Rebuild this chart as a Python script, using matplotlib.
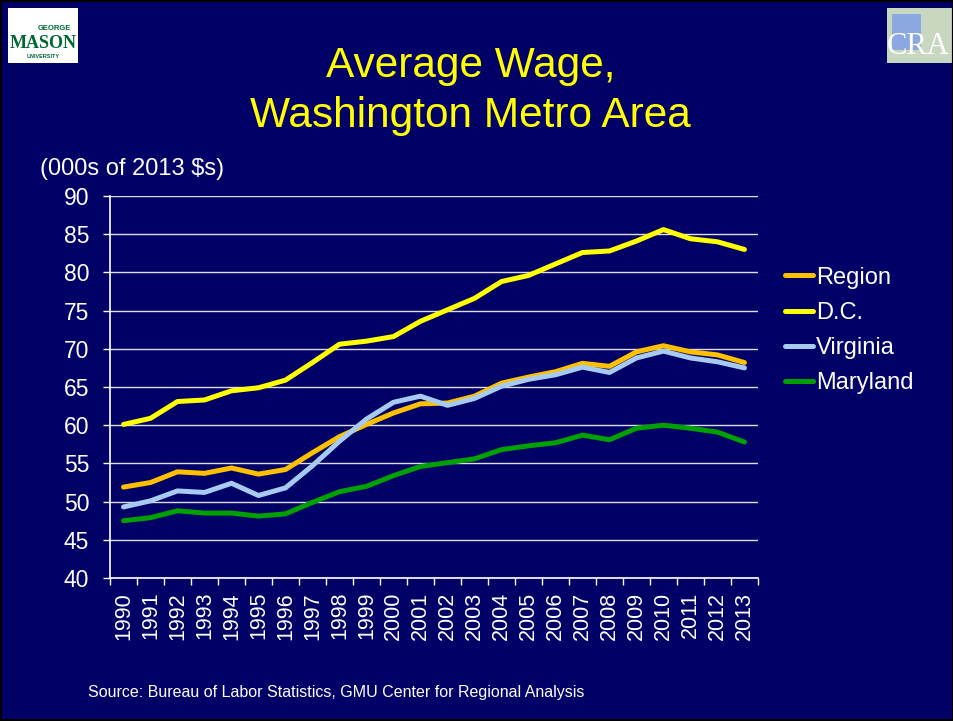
import matplotlib.pyplot as plt
from matplotlib.patches import Rectangle

plt.rcParams['font.family'] = ['Liberation Sans', 'DejaVu Sans']

years = [str(y) for y in range(1990, 2014)]
region = [51.9, 52.5, 53.9, 53.7, 54.4, 53.6, 54.2, 56.4, 58.5, 60.1, 61.6, 62.8,
          62.9, 63.8, 65.5, 66.3, 67.0, 68.1, 67.7, 69.6, 70.4, 69.6, 69.2, 68.2]
dc = [60.1, 60.9, 63.1, 63.3, 64.5, 64.9, 65.9, 68.2, 70.6, 71.0, 71.6, 73.6,
      75.1, 76.6, 78.8, 79.6, 81.1, 82.6, 82.8, 84.1, 85.6, 84.4, 84.0, 83.0]
virginia = [49.3, 50.1, 51.4, 51.2, 52.4, 50.8, 51.8, 54.7, 57.9, 60.8, 63.0, 63.8,
            62.6, 63.5, 65.1, 66.0, 66.6, 67.6, 66.9, 68.8, 69.7, 68.8, 68.3, 67.5]
maryland = [47.5, 47.9, 48.8, 48.5, 48.5, 48.1, 48.4, 49.9, 51.3, 52.0, 53.4, 54.6,
            55.1, 55.6, 56.8, 57.3, 57.7, 58.7, 58.1, 59.6, 60.0, 59.6, 59.1, 57.8]

series = [("Region", region, "#FFC000"),
          ("D.C.", dc, "#FFFF00"),
          ("Virginia", virginia, "#A6CAF0"),
          ("Maryland", maryland, "#00A000")]

bg = "#000066"
fig = plt.figure(figsize=(9.54, 7.21), dpi=100, facecolor=bg)
ax = fig.add_axes([0.1153, 0.1983, 0.6792, 0.5299], facecolor=bg)

x = list(range(len(years)))
for name, vals, col in series:
    ax.plot(x, vals, color=col, lw=3.6, label=name, solid_capstyle="round", zorder=3)

ax.set_ylim(40, 90)
ax.set_yticks(range(40, 91, 5))
ax.set_xlim(-0.5, len(years) - 0.5)
ax.set_xticks(x)
ax.set_xticklabels(years, rotation=90)
ax.set_xticks([i - 0.5 for i in range(len(years) + 1)], minor=True)
ax.tick_params(axis="x", which="major", length=0, colors="white", labelsize=15.5, pad=10)
ax.tick_params(axis="x", which="minor", length=5, color="white", width=1)
ax.tick_params(axis="y", length=5, color="white", width=1, labelcolor="white",
               labelsize=16.5, pad=10)
ax.grid(axis="y", color="#DDDDEE", lw=1)
ax.set_axisbelow(True)
for s in ["top", "right"]:
    ax.spines[s].set_visible(False)
for s in ["left", "bottom"]:
    ax.spines[s].set_color("white")
    ax.spines[s].set_linewidth(1.2)

leg = ax.legend(loc="upper left", bbox_to_anchor=(1.0417, 0.815), frameon=False,
                fontsize=17, handlelength=1.2, handletextpad=0.1, labelspacing=0.56,
                borderpad=0, borderaxespad=0)
for t in leg.get_texts():
    t.set_color("white")

fig.text(0.493, 0.893, "Average Wage,", color="#FFFF00", fontsize=30.5,
         ha="center", va="baseline")
fig.text(0.493, 0.824, "Washington Metro Area", color="#FFFF00", fontsize=30.5,
         ha="center", va="baseline")
fig.text(0.042, 0.757, "(000s of 2013 $s)", color="white", fontsize=17,
         ha="left", va="baseline")
fig.text(0.092, 0.039, "Source: Bureau of Labor Statistics, GMU Center for Regional Analysis",
         color="white", fontsize=11.5, ha="left", va="center")

# logos (approximated)
fig.patches.append(Rectangle((0.008, 0.913), 0.074, 0.076, transform=fig.transFigure,
                             facecolor="white", edgecolor="none"))
fig.text(0.057, 0.961, "GEORGE", color="#006633", fontsize=5.5, fontweight="bold",
         ha="center", va="center")
fig.text(0.045, 0.940, "MASON", color="#006633", fontsize=13, fontweight="bold",
         family="Liberation Serif", ha="center", va="center")
fig.text(0.045, 0.921, "UNIVERSITY", color="#006633", fontsize=4, fontweight="bold",
         ha="center", va="center")
fig.patches.append(Rectangle((0.930, 0.913), 0.070, 0.076, transform=fig.transFigure,
                             facecolor="#C8D8C0", edgecolor="none"))
fig.patches.append(Rectangle((0.935, 0.93), 0.03, 0.05, transform=fig.transFigure,
                             facecolor="#8CA8E0", edgecolor="none"))
fig.text(0.93, 0.935, "CRA", color="white", fontsize=22, family="Liberation Serif",
         ha="left", va="center")

# slide frame
fig.patches.append(Rectangle((0, 0), 1, 1, transform=fig.transFigure,
                             facecolor="none", edgecolor="black", lw=3))

fig.savefig("out.png", dpi=100, facecolor=bg)
